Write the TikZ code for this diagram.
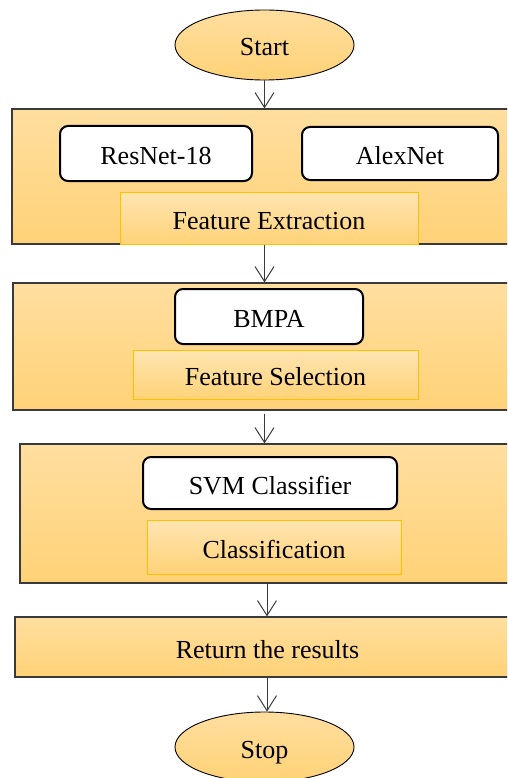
\documentclass[tikz,border=0pt]{standalone}
\usepackage{fontspec}
\setmainfont{Liberation Serif}
\usetikzlibrary{arrows.meta,shapes.geometric}
\definecolor{gtop}{HTML}{FFDE9F}
\definecolor{gbot}{HTML}{FFD277}
\definecolor{gold}{HTML}{FFC000}
\definecolor{edge}{HTML}{3A3A3A}
\tikzset{
  x=1pt, y=-1pt,
  every node/.style={font=\rmfamily\fontsize{26}{30}\selectfont, inner sep=0pt, text height=24pt, text depth=2pt},
  term/.style={ellipse, draw=black, line width=0.9pt, top color=gtop, bottom color=gbot, minimum width=179pt, minimum height=70pt},
  stage/.style={rectangle, draw=edge, line width=1.1pt, top color=gtop, bottom color=gbot},
  tool/.style={rectangle, rounded corners=8pt, draw=black, line width=2pt, fill=white},
  tag/.style={rectangle, draw=gold, line width=1pt, top color=gtop!80!white, bottom color=gbot},
  arr/.style={draw=edge, line width=1pt, -{Straight Barb[length=15pt,width=19pt,line width=1pt]}}
}
\begin{document}
\begin{tikzpicture}
\useasboundingbox (0,0) rectangle (507,778);
\clip (0,0) rectangle (507,778);
% terminals
\node[term] (start) at (264.5,45) {Start};
% stage 1
\node[stage, minimum width=508pt, minimum height=135pt] (s1) at (266,176.5) {};
\node[tool, minimum width=192pt, minimum height=55pt] (resnet) at (156,153.5) {ResNet-18};
\node[tool, minimum width=196pt, minimum height=53pt] (alex) at (400,153.5) {AlexNet};
\node[tag, minimum width=298pt, minimum height=52pt] (fe) at (269,218) {Feature Extraction};
% stage 2
\node[stage, minimum width=507pt, minimum height=127pt] (s2) at (266.5,346.5) {};
\node[tool, minimum width=188pt, minimum height=55pt] (bmpa) at (269,316.5) {BMPA};
\node[tag, minimum width=285pt, minimum height=49pt] (fs) at (275.5,374.5) {Feature Selection};
% stage 3
\node[stage, minimum width=500pt, minimum height=139pt] (s3) at (270,513.5) {};
\node[tool, minimum width=254pt, minimum height=52pt] (svm) at (270,483) {SVM Classifier};
\node[tag, minimum width=254pt, minimum height=54pt] (cls) at (274,547) {Classification};
% results
\node[stage, minimum width=505pt, minimum height=60pt] (ret) at (267.5,647) {Return the results};
\node[term] (stop) at (264.5,747) {Stop};
% connectors
\draw[arr] (start.south) -- (start.south |- s1.north);
\draw[arr] (start.south |- s1.south) -- (start.south |- s2.north);
\coordinate (a3) at ([yshift=-3pt]start.south |- s2.south);
\draw[arr] (a3) -- (start.south |- s3.north);
\coordinate (c4) at (267,0);
\draw[arr] (c4 |- s3.south) -- (c4 |- ret.north);
\draw[arr] (c4 |- ret.south) -- (c4 |- stop.north);
\end{tikzpicture}
\end{document}
